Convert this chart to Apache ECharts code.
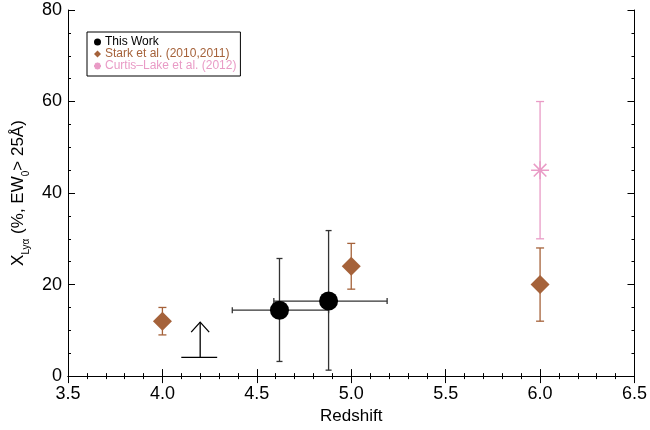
<!DOCTYPE html>
<html>
<head>
<meta charset="utf-8">
<script src="https://cdn.jsdelivr.net/npm/echarts@6/dist/echarts.min.js"></script>
<style>
  html, body { margin: 0; padding: 0; background: #fff; }
  #chart { width: 650px; height: 430px; }
</style>
</head>
<body>
<div id="chart"></div>
<script>
// Lyman-alpha fraction vs redshift
const FONT = '"Liberation Sans", Arial, Helvetica, sans-serif';

// This work: redshift, fraction, redshift range, fraction range
const thisX    = [4.62, 4.88];
const thisY    = [14.4, 16.4];
const thisXLo  = [4.37, 4.59];
const thisXHi  = [4.88, 5.19];
const thisYLo  = [3.2, 1.3];
const thisYHi  = [25.7, 31.8];

// Stark et al. (2010, 2011)
const starkX   = [4.0, 5.0, 6.0];
const starkY   = [12, 24, 20];
const starkYLo = [9, 19, 12];
const starkYHi = [15, 29, 28];

// Curtis-Lake et al. (2012)
const clX   = [6.0];
const clY   = [45];
const clYLo = [30];
const clYHi = [60];

// Lower limit (arrow)
const limX    = [4.2];
const limY    = [4.1];
const limTop  = [11.8];
const limXLo  = [4.1];
const limXHi  = [4.29];

const xTicks = [3.5, 6.5, 0.5];  // min, max, step
const yTicks = [0, 80, 20];

const BROWN = '#a5623a';
const PINK  = '#e99bc6';
const BLACK = '#000000';
const BAR_DARK = '#333333';

const ASTERISK = 'path://M0,-10L0,10M-10,0L10,0M-7,-7L7,7M-7,7L7,-7';

function errRows(xs, ys, xlo, xhi, ylo, yhi) {
  return xs.map((x, i) => [x, ys[i], xlo ? xlo[i] : x, xhi ? xhi[i] : x, ylo[i], yhi[i]]);
}

function errorBarRender(color, cap) {
  return function (params, api) {
    const x = api.value(0), y = api.value(1);
    const xl = api.value(2), xh = api.value(3);
    const yl = api.value(4), yh = api.value(5);
    const c = api.coord([x, y]);
    const pl = api.coord([x, yl]), ph = api.coord([x, yh]);
    const style = { stroke: color, lineWidth: 1.3 };
    const children = [
      { type: 'line', shape: { x1: pl[0], y1: pl[1], x2: ph[0], y2: ph[1] }, style },
      { type: 'line', shape: { x1: pl[0] - cap, y1: pl[1], x2: pl[0] + cap, y2: pl[1] }, style },
      { type: 'line', shape: { x1: ph[0] - cap, y1: ph[1], x2: ph[0] + cap, y2: ph[1] }, style }
    ];
    if (xl !== xh) {
      const ql = api.coord([xl, y]), qh = api.coord([xh, y]);
      children.push(
        { type: 'line', shape: { x1: ql[0], y1: c[1], x2: qh[0], y2: c[1] }, style },
        { type: 'line', shape: { x1: ql[0], y1: c[1] - cap, x2: ql[0], y2: c[1] + cap }, style },
        { type: 'line', shape: { x1: qh[0], y1: c[1] - cap, x2: qh[0], y2: c[1] + cap }, style }
      );
    }
    return { type: 'group', children };
  };
}

const chart = echarts.init(document.getElementById('chart'), null, { renderer: 'canvas' });

const axisLabel = { fontFamily: FONT, fontSize: 18, color: '#000' };
const tickStyle = { color: '#000', width: 1 };

chart.setOption({
  animation: false,
  backgroundColor: '#fff',
  grid: { left: 68, right: 15, top: 10, bottom: 53 },
  legend: {
    orient: 'vertical',
    left: 87,
    top: 32,
    padding: [4, 4, 4, 6],
    itemGap: 0,
    itemWidth: 7,
    itemHeight: 7,
    borderColor: '#000',
    borderWidth: 1,
    textStyle: { fontFamily: FONT, fontSize: 12, lineHeight: 11, padding: [0, 0, 0, -1] },
    data: [
      { name: 'This Work', icon: 'circle', textStyle: { color: BLACK } },
      { name: 'Stark et al. (2010,2011)', icon: 'diamond', textStyle: { color: BROWN } },
      { name: 'Curtis\u2013Lake et al. (2012)', icon: ASTERISK, textStyle: { color: PINK } }
    ]
  },
  xAxis: [{
    type: 'value', min: xTicks[0], max: xTicks[1], interval: xTicks[2],
    name: 'Redshift', nameLocation: 'middle', nameGap: 31,
    nameTextStyle: { fontFamily: FONT, fontSize: 17, color: '#000' },
    axisLine: { show: true, lineStyle: { color: '#000', width: 1 } },
    axisTick: { show: true, inside: true, length: 7, lineStyle: tickStyle },
    minorTick: { show: true, splitNumber: 5, length: 3, lineStyle: tickStyle },
    splitLine: { show: false },
    axisLabel: Object.assign({ margin: 9, formatter: v => v.toFixed(1) }, axisLabel)
  }, {
    type: 'value', position: 'top', min: xTicks[0], max: xTicks[1], interval: xTicks[2],
    axisLine: { show: true, lineStyle: { color: '#000', width: 1 } },
    axisTick: { show: true, inside: true, length: 7, lineStyle: tickStyle },
    minorTick: { show: true, splitNumber: 5, length: 3, lineStyle: tickStyle },
    splitLine: { show: false }, axisLabel: { show: false }
  }],
  yAxis: [{
    type: 'value', min: yTicks[0], max: yTicks[1], interval: yTicks[2],
    name: '{m|X}{s|Ly\u03b1}{m| (%, EW}{s|0}{m|> 25\u00c5)}',
    nameLocation: 'middle', nameGap: 38, nameRotate: 90,
    nameTextStyle: {
      fontFamily: FONT, color: '#000',
      rich: {
        m: { fontFamily: FONT, fontSize: 17, color: '#000', verticalAlign: 'bottom', lineHeight: 20 },
        s: { fontFamily: FONT, fontSize: 10, color: '#000', verticalAlign: 'bottom', lineHeight: 14, padding: [0, 0, -4, 0] }
      }
    },
    axisLine: { show: true, lineStyle: { color: '#000', width: 1 } },
    axisTick: { show: true, inside: true, length: 7, lineStyle: tickStyle },
    minorTick: { show: true, splitNumber: 4, length: 3, lineStyle: tickStyle },
    splitLine: { show: false },
    axisLabel: Object.assign({ margin: 6 }, axisLabel)
  }, {
    type: 'value', position: 'right', min: yTicks[0], max: yTicks[1], interval: yTicks[2],
    axisLine: { show: true, lineStyle: { color: '#000', width: 1 } },
    axisTick: { show: true, inside: true, length: 7, lineStyle: tickStyle },
    minorTick: { show: true, splitNumber: 4, length: 3, lineStyle: tickStyle },
    splitLine: { show: false }, axisLabel: { show: false }
  }],
  series: [
    // error bars
    {
      type: 'custom', silent: true, z: 2,
      data: errRows(clX, clY, null, null, clYLo, clYHi),
      renderItem: errorBarRender(PINK, 4)
    },
    {
      type: 'custom', silent: true, z: 2,
      data: errRows(starkX, starkY, null, null, starkYLo, starkYHi),
      renderItem: errorBarRender(BROWN, 4)
    },
    {
      type: 'custom', silent: true, z: 2,
      data: errRows(thisX, thisY, thisXLo, thisXHi, thisYLo, thisYHi),
      renderItem: errorBarRender(BAR_DARK, 3)
    },
    // lower limit arrow
    {
      type: 'custom', silent: true, z: 3,
      data: limX.map((x, i) => [x, limY[i], limTop[i], limXLo[i], limXHi[i]]),
      renderItem: function (params, api) {
        const b = api.coord([api.value(0), api.value(1)]);
        const t = api.coord([api.value(0), api.value(2)]);
        const l = api.coord([api.value(3), api.value(1)]);
        const r = api.coord([api.value(4), api.value(1)]);
        const style = { stroke: '#000', lineWidth: 1.3, fill: null };
        return {
          type: 'group',
          children: [
            { type: 'line', shape: { x1: l[0], y1: b[1], x2: r[0], y2: b[1] }, style },
            { type: 'line', shape: { x1: b[0], y1: b[1], x2: t[0], y2: t[1] }, style },
            { type: 'polyline', shape: { points: [[t[0] - 9, t[1] + 10], [t[0], t[1]], [t[0] + 9, t[1] + 10]] }, style }
          ]
        };
      }
    },
    // markers
    {
      name: 'Curtis\u2013Lake et al. (2012)', type: 'scatter', z: 4,
      symbol: ASTERISK, symbolSize: 18,
      itemStyle: { color: PINK, borderColor: PINK, borderWidth: 1.5, opacity: 1 },
      data: clX.map((x, i) => [x, clY[i]])
    },
    {
      name: 'Stark et al. (2010,2011)', type: 'scatter', z: 4,
      symbol: 'diamond', symbolSize: 19,
      itemStyle: { color: BROWN, opacity: 1 },
      data: starkX.map((x, i) => [x, starkY[i]])
    },
    {
      name: 'This Work', type: 'scatter', z: 5,
      symbol: 'circle', symbolSize: 19,
      itemStyle: { color: BLACK, opacity: 1 },
      data: thisX.map((x, i) => [x, thisY[i]])
    }
  ]
});
</script>
</body>
</html>
